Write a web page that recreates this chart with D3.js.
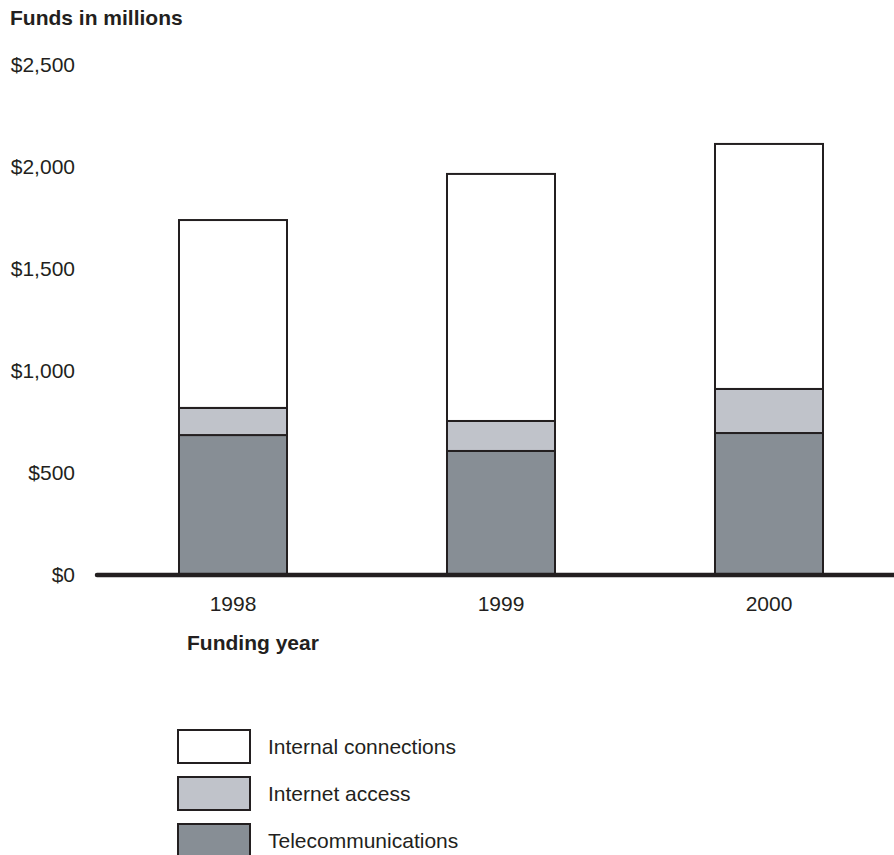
<!DOCTYPE html>
<html>
<head>
<meta charset="utf-8">
<script src="https://cdn.jsdelivr.net/npm/d3@7/dist/d3.min.js"></script>
<style>
  html, body { margin: 0; padding: 0; background: #fff; }
  svg { display: block; font-family: "Liberation Sans", Arial, sans-serif; }
</style>
</head>
<body>
<svg id="chart" width="894" height="855"></svg>
<script>
const years = ["1998", "1999", "2000"];
const telecommunications = [686, 608, 696];
const internetAccess = [133, 147, 216];
const internalConnections = [921, 1211, 1201];
const seriesNames = ["Telecommunications", "Internet access", "Internal connections"];
const seriesColors = ["#878e95", "#c0c3ca", "#ffffff"];
const yTicks = [0, 500, 1000, 1500, 2000, 2500];
const legendOrder = ["Internal connections", "Internet access", "Telecommunications"];

const svg = d3.select("#chart");
const ink = "#231f20";

const y = d3.scaleLinear().domain([0, 2500]).range([575, 65]);
const x = d3.scaleBand().domain(years).range([99, 903]).paddingInner(0.597).paddingOuter(0.2985);
const color = d3.scaleOrdinal().domain(seriesNames).range(seriesColors);

const table = years.map((yr, i) => ({
  year: yr,
  "Telecommunications": telecommunications[i],
  "Internet access": internetAccess[i],
  "Internal connections": internalConnections[i]
}));
const stacked = d3.stack().keys(seriesNames)(table);

// Title
svg.append("text").attr("x", 10).attr("y", 25)
  .attr("font-size", 21).attr("font-weight", "bold").attr("fill", ink)
  .text("Funds in millions");

// Y axis labels
const yAxis = svg.append("g").attr("transform", "translate(75,0)")
  .call(d3.axisLeft(y).tickValues(yTicks).tickSize(0).tickPadding(0)
    .tickFormat(d => "$" + d3.format(",")(d)));
yAxis.select(".domain").remove();
yAxis.selectAll("text").attr("font-size", 21).attr("fill", ink)
  .attr("font-family", "Liberation Sans, Arial, sans-serif");

// Bars
svg.append("g").selectAll("g").data(stacked).join("g")
  .attr("fill", d => color(d.key))
  .selectAll("rect").data(d => d).join("rect")
  .attr("x", d => x(d.data.year))
  .attr("width", x.bandwidth())
  .attr("y", d => y(d[1]))
  .attr("height", d => y(d[0]) - y(d[1]))
  .attr("stroke", ink).attr("stroke-width", 2);

// Baseline
svg.append("line").attr("x1", 97).attr("x2", 900)
  .attr("y1", y(0)).attr("y2", y(0))
  .attr("stroke", ink).attr("stroke-width", 4.5).attr("stroke-linecap", "round");

// X labels
svg.append("g").selectAll("text").data(years).join("text")
  .attr("x", d => x(d) + x.bandwidth() / 2).attr("y", 611)
  .attr("text-anchor", "middle").attr("font-size", 21).attr("fill", ink)
  .text(d => d);

svg.append("text").attr("x", 187).attr("y", 650)
  .attr("font-size", 21).attr("font-weight", "bold").attr("fill", ink)
  .text("Funding year");

// Legend
const legend = svg.append("g").selectAll("g").data(legendOrder).join("g")
  .attr("transform", (d, i) => `translate(178,${730 + i * 47})`);
legend.append("rect").attr("width", 72).attr("height", 33)
  .attr("fill", d => color(d)).attr("stroke", ink).attr("stroke-width", 2);
legend.append("text").attr("x", 90).attr("y", 16.5).attr("dy", "0.35em")
  .attr("font-size", 21).attr("fill", ink).text(d => d);
</script>
</body>
</html>
